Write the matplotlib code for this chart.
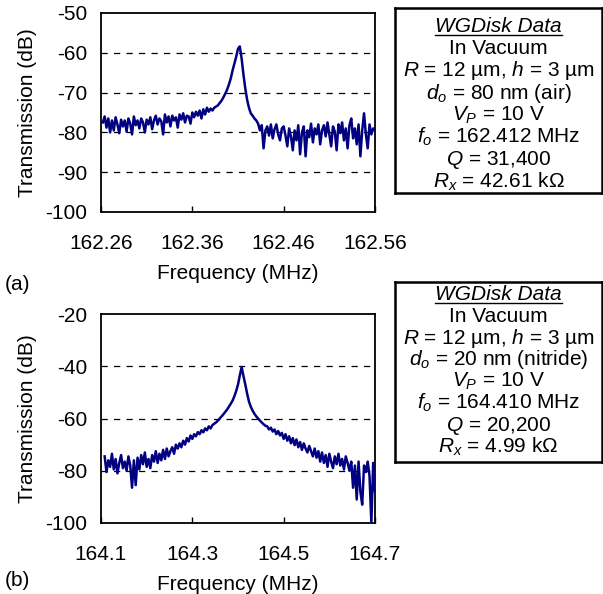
import numpy as np
import matplotlib
matplotlib.use('Agg')
import matplotlib.pyplot as plt

plt.rcParams['font.family'] = ['Liberation Sans', 'DejaVu Sans']
plt.rcParams['mathtext.fontset'] = 'custom'
plt.rcParams['mathtext.rm'] = 'Liberation Sans'
plt.rcParams['mathtext.it'] = 'Liberation Sans:italic'

# (a) sweep: 162.262 MHz, 2 kHz steps
freq_a_start = 162.262
freq_a_step = 0.002
trans_a = [
    -77.5, -76.0, -78.8, -76.5, -80.0, -77.0, -79.5, -76.2, -78.0, -80.2,
    -76.8, -78.5, -77.0, -79.8, -76.5, -77.8, -80.5, -76.0, -78.2, -77.0,
    -79.0, -76.5, -77.5, -80.0, -76.8, -78.0, -76.2, -79.2, -77.0, -75.8,
    -78.0, -76.5, -77.2, -80.5, -75.5, -77.5, -76.0, -78.5, -75.8, -77.0,
    -76.2, -78.8, -75.5, -76.8, -75.2, -77.5, -75.8, -76.0, -77.8, -75.0,
    -76.2, -74.8, -75.8, -74.5, -76.5, -74.2, -75.5, -73.8, -74.8, -74.0,
    -74.5, -73.8, -73.5, -73.2, -72.6,
    -72.0, -71.2, -70.3, -69.3, -68.0, -66.5, -64.5, -62.8, -61.0, -59.0,
    -58.4, -61.5, -65.5, -69.0, -71.8, -73.8, -75.2, -75.8, -76.5, -77.0, -77.8,
    -79.5, -78.2, -84.0, -79.5,
    -78.5, -80.8, -78.0, -81.5, -79.2, -78.0, -80.5, -82.0, -79.0, -78.5,
    -80.8, -83.5, -79.0, -81.0, -84.5, -79.5, -82.0, -78.2, -85.5, -80.0,
    -78.5, -86.0, -79.5, -81.2, -77.8, -82.5, -79.0, -80.5, -78.0, -83.0,
    -79.5, -78.2, -81.0, -77.5, -80.5, -83.5, -78.5, -79.8, -84.5, -78.0,
    -80.2, -77.5, -82.0, -79.0, -84.0, -78.2, -76.5, -81.5, -79.0, -83.0,
    -78.0, -86.0, -79.5, -75.2, -80.5, -84.0, -78.0, -80.5, -79.0, -79.5,
]

# (b) sweep: 164.108 MHz, 4 kHz steps
freq_b_start = 164.108
freq_b_step = 0.004
trans_b = [
    -74.5, -80.5, -76.0, -78.5, -73.5, -79.5, -75.5, -81.0, -77.0, -74.0, -79.0,
    -76.5, -80.0, -74.5, -78.0, -86.5, -76.0, -85.5, -75.0, -79.5,
    -74.0, -77.5, -73.0, -78.5, -75.5, -79.0, -74.0, -76.5, -72.5, -77.0,
    -73.5, -76.0, -72.0, -75.5, -71.5, -74.5, -72.5, -71.0, -73.5, -70.0,
    -71.5, -69.5, -71.0, -68.5, -70.0, -67.5, -68.8, -66.5, -67.8, -66.0,
    -66.8, -65.2, -66.0, -64.5, -65.3, -63.8, -64.5, -63.0, -63.8, -62.5,
    -62.0, -61.5, -60.8, -60.0, -59.2, -58.4, -57.5, -56.6, -55.5, -54.4,
    -53.2, -51.5, -49.5, -47.0, -43.5, -40.3,
    -43.8, -47.0, -50.5, -53.5, -55.5,
    -57.0, -58.2, -59.2, -60.0, -60.8, -61.5, -62.2, -62.8, -63.0, -64.2,
    -63.5, -65.0, -64.2, -66.0, -64.8, -66.5, -65.5, -67.8, -66.0, -68.5,
    -66.8, -69.5, -67.5, -70.2, -68.0, -71.0, -69.0, -72.0, -69.5, -71.5,
    -73.0, -70.5, -72.5, -74.5, -71.5, -75.0, -72.5, -76.5, -73.0, -77.0,
    -74.0, -78.5, -73.5, -76.5, -79.0, -74.5, -77.5, -73.5, -78.0, -75.5,
    -79.5, -74.5, -77.0, -80.0, -76.5, -86.5, -78.0, -91.0, -76.5, -88.0,
    -93.0, -78.0, -80.5, -76.5, -82.0, -100.0, -77.0, -88.0,
]

xticks_a = [162.26, 162.36, 162.46, 162.56]
yticks_a = [-100, -90, -80, -70, -60, -50]
xticks_b = [164.1, 164.3, 164.5, 164.7]
yticks_b = [-100, -80, -60, -40, -20]

box_a = ['In Vacuum', '$R$ = 12 µm, $h$ = 3 µm', '$d_o$ = 80 nm (air)',
         '$V_P$ = 10 V', '$f_o$ = 162.412 MHz', '$Q$ = 31,400',
         '$R_x$ = 42.61 kΩ']
box_b = ['In Vacuum', '$R$ = 12 µm, $h$ = 3 µm', '$d_o$ = 20 nm (nitride)',
         '$V_P$ = 10 V', '$f_o$ = 164.410 MHz', '$Q$ = 20,200',
         '$R_x$ = 4.99 kΩ']

W, H = 603, 594
FS = 15
navy = '#000080'

fig = plt.figure(figsize=(W / 100, H / 100), dpi=100)


def px_rect(l, t, r, b):
    return [l / W, 1 - b / H, (r - l) / W, (b - t) / H]


def setup_axes(ax, xticks, yticks, fmt):
    ax.set_xlim(xticks[0], xticks[-1])
    ax.set_ylim(yticks[0], yticks[-1])
    ax.set_xticks(xticks)
    ax.set_xticklabels([fmt % v for v in xticks], fontsize=FS)
    ax.set_yticks(yticks)
    ax.set_yticklabels(['%d' % v for v in yticks], fontsize=FS)
    ax.tick_params(axis='x', direction='in', length=4, width=1, pad=16)
    ax.tick_params(axis='y', length=0, pad=10)
    for g in yticks[1:-1]:
        ax.axhline(g, color='black', lw=0.9, ls=(0, (5, 5)), zorder=1)
    for s in ax.spines.values():
        s.set_linewidth(1.3)
    ax.set_ylabel('Transmission (dB)', fontsize=FS, labelpad=6)
    ax.set_xlabel('Frequency (MHz)', fontsize=FS, labelpad=8)


ax1 = fig.add_axes(px_rect(101, 13, 375, 212))
fa = freq_a_start + freq_a_step * np.arange(len(trans_a))
ax1.plot(fa, trans_a, color=navy, lw=1.8, zorder=3)
setup_axes(ax1, xticks_a, yticks_a, '%.2f')

ax2 = fig.add_axes(px_rect(101, 314, 375, 523))
fb = freq_b_start + freq_b_step * np.arange(len(trans_b))
ax2.plot(fb, trans_b, color=navy, lw=1.8, zorder=3)
setup_axes(ax2, xticks_b, yticks_b, '%.1f')

fig.text(5 / W, 1 - 285 / H, '(a)', fontsize=FS, ha='left', va='center')
fig.text(5 / W, 1 - 580 / H, '(b)', fontsize=FS, ha='left', va='center')


def info_box(top, bottom, first, step, lines):
    bx = fig.add_axes(px_rect(395, top, 602, bottom))
    bx.set_xticks([])
    bx.set_yticks([])
    for s in bx.spines.values():
        s.set_linewidth(1.8)
    xc = 498.5 / W
    t = fig.text(xc, 1 - (first + 7) / H, 'WGDisk Data', fontsize=FS,
                 style='italic', ha='center', va='baseline')
    for i, s in enumerate(lines):
        y = first + step * (i + 1) + 7
        fig.text(xc, 1 - y / H, s, fontsize=FS, ha='center', va='baseline')
    return t


title_a = info_box(8, 193, 25, 22.2, box_a)
title_b = info_box(282, 462, 293, 21.8, box_b)

# underline the box titles
fig.canvas.draw()
r = fig.canvas.get_renderer()
for t in (title_a, title_b):
    bb = t.get_window_extent(renderer=r)
    y = (t.get_position()[1] * H - 2.5) / H
    fig.add_artist(plt.Line2D([bb.x0 / W, bb.x1 / W], [y, y],
                              transform=fig.transFigure, color='black', lw=1.0))

fig.savefig('out.png', dpi=100)
